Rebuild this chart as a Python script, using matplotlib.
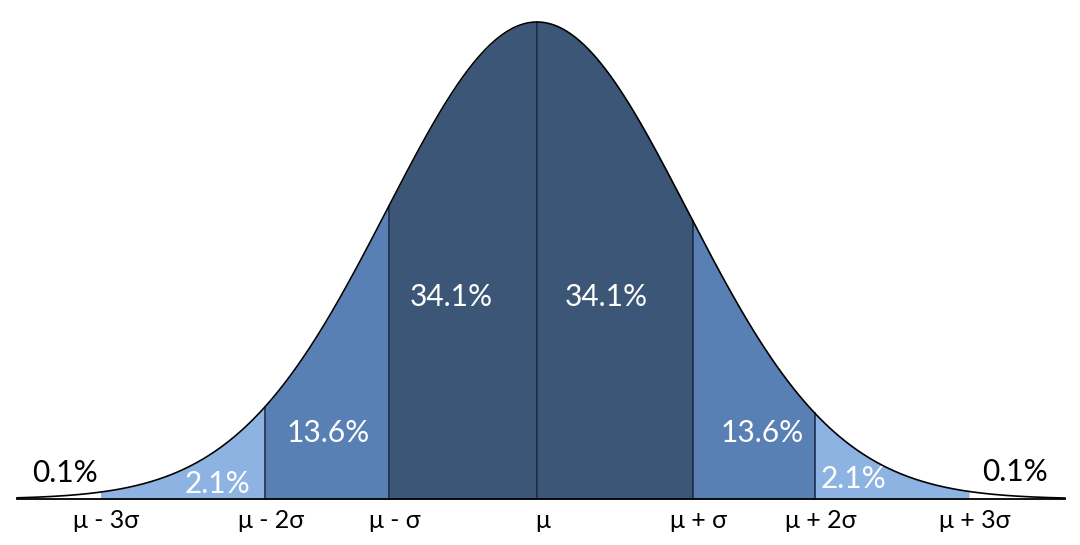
import numpy as np
import matplotlib
matplotlib.use("Agg")
import matplotlib.pyplot as plt

# region boundaries, in units of the curve's sigma
bounds = [-2.91, -1.813, -0.987, 0.0, 1.04, 1.853, 2.88]
region_pcts = ["2.1%", "13.6%", "34.1%", "34.1%", "13.6%", "2.1%"]
region_colors = ["#8db3e2", "#5880b5", "#3b5677", "#3b5677", "#5880b5", "#8db3e2"]
tail_pct = "0.1%"
tick_labels = ["\u03bc - 3\u03c3", "\u03bc - 2\u03c3", "\u03bc - \u03c3", "\u03bc",
               "\u03bc + \u03c3", "\u03bc + 2\u03c3", "\u03bc + 3\u03c3"]

# where the percentage labels sit (x, y in data units)
pct_pos = [(-2.127, 0.031), (-1.393, 0.138), (-0.573, 0.4235),
           (0.46, 0.4235), (1.5, 0.138), (2.107, 0.042)]
tail_pos = [(-3.147, 0.0545), (3.187, 0.0566)]

plt.rcParams['font.family'] = ['Lato', 'DejaVu Sans']

fig = plt.figure(figsize=(10.8, 5.45), dpi=100)
ax = fig.add_axes([0, 0, 1, 1])
ax.set_xlim((0 - 537) / 150, (1080 - 537) / 150)
ax.set_ylim(-46 / 477, 1 + 22 / 477)
ax.axis("off")

pdf = lambda x: np.exp(-0.5 * x ** 2)
x_lo, x_hi = (17 - 537) / 150, (1065 - 537) / 150

for i in range(len(bounds) - 1):
    xs = np.linspace(bounds[i], bounds[i + 1], 200)
    ax.fill_between(xs, 0, pdf(xs), color=region_colors[i], lw=0)

for b in bounds[1:-1]:
    ax.plot([b, b], [0, pdf(b)], color="#14213a", lw=1.1)

xs = np.linspace(x_lo, x_hi, 1000)
ax.plot(xs, pdf(xs), color="black", lw=1.2)
ax.plot([x_lo, x_hi], [0, 0], color="black", lw=1.3)

for (x, y), t in zip(pct_pos, region_pcts):
    ax.text(x, y, t, color="white", fontsize=21.5, ha="center", va="center")
for x, y in tail_pos:
    ax.text(x, y, tail_pct, color="black", fontsize=21.5, ha="center", va="center")

for b, t in zip(bounds, tick_labels):
    ax.text(b + 0.04, -0.046, t, color="black", fontsize=18, ha="center", va="center")

plt.savefig("out.png", dpi=100)
